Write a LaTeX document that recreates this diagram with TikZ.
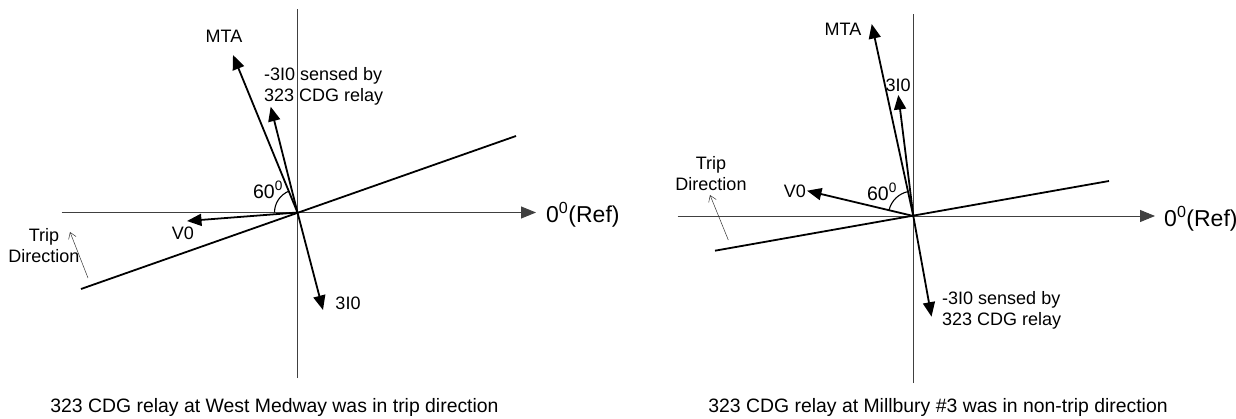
\documentclass[tikz,border=0pt]{standalone}
\usepackage{fontspec}
\setmainfont{Liberation Sans}
\usetikzlibrary{arrows.meta}
\begin{document}
\begin{tikzpicture}[x=1pt,y=1pt,
  axisline/.style={line width=0.9pt, draw=black!75},
  axisarrow/.style={line width=0.9pt, draw=black!75, -{Triangle[length=15pt,width=12pt]}},
  vec/.style={line width=1.8pt, -{Triangle[length=14.5pt,width=12pt]}},
  zline/.style={line width=1.8pt},
  anglearc/.style={line width=1.1pt},
  tripar/.style={line width=0.5pt, draw=black!80, -{Straight Barb[length=6pt,width=8pt]}},
  lbl/.style={font=\fontsize{18}{21}\selectfont, inner sep=0pt},
  reflbl/.style={font=\fontsize{23}{26}\selectfont, inner sep=0pt},
  anglbl/.style={font=\fontsize{19.5}{22}\selectfont, inner sep=0pt},
  caplbl/.style={font=\fontsize{19.4}{23}\selectfont, inner sep=0pt}]
\useasboundingbox (0,0) rectangle (1236,418);

% ---------------- Left diagram ----------------
\coordinate (O1) at (297.5,205.5);
\coordinate (v1t) at (297.5,408.5);
\coordinate (v1b) at (297.5,40);
\coordinate (h1s) at (61.5,205.5);
\coordinate (h1e) at (536,205.5);
\coordinate (z1a) at (81,129);
\coordinate (z1b) at (516,282);
\coordinate (mta1) at (233,363);
\coordinate (m3i1) at (270.7,311.3);
\coordinate (vz1) at (187,197);
\coordinate (i31) at (323,108);
\coordinate (tr1s) at (88,140);
\coordinate (tr1e) at (70,186);

\draw[axisline] (v1b) -- (v1t);
\draw[axisarrow] (h1s) -- (h1e);
\draw[zline] (z1a) -- (z1b);
\draw[vec] (O1) -- (mta1);
\draw[vec] (O1) -- (m3i1);
\draw[vec] (O1) -- (vz1);
\draw[vec] (O1) -- (i31);
\draw[anglearc] (O1) ++(180:23) arc[start angle=180,end angle=112,radius=23];
\draw[tripar] (tr1s) -- (tr1e);

\node[reflbl, anchor=west] (ref1) at (546,203) {0\textsuperscript{0}(Ref)};
\node[lbl] (mtal1) at (224,382) {MTA};
\node[lbl, anchor=west, align=left] (m3il1) at (264,331.3) {-3I0 sensed by\\323 CDG relay};
\node[lbl] (vzl1) at (183,185) {V0};
\node[lbl] (i3l1) at (348,115) {3I0};
\node[anglbl] (ang1) at (268,228) {60\textsuperscript{0}};
\node[lbl, align=center] (trip1) at (44,172) {Trip\\Direction};
\node[caplbl, anchor=base] (cap1) at (274.5,6) {323 CDG relay at West Medway was in trip direction};

% ---------------- Right diagram ----------------
\coordinate (O2) at (913.3,202);
\coordinate (v2t) at (913.3,404);
\coordinate (v2b) at (913.3,35);
\coordinate (h2s) at (677.5,202);
\coordinate (h2e) at (1155,202);
\coordinate (z2a) at (715,167.3);
\coordinate (z2b) at (1109,237);
\coordinate (mta2) at (871.7,394);
\coordinate (i32) at (898.3,323);
\coordinate (vz2) at (807,227.3);
\coordinate (m3i2) at (931.5,101.3);
\coordinate (tr2s) at (728.3,178);
\coordinate (tr2e) at (710,223);

\draw[axisline] (v2b) -- (v2t);
\draw[axisarrow] (h2s) -- (h2e);
\draw[zline] (z2a) -- (z2b);
\draw[vec] (O2) -- (mta2);
\draw[vec] (O2) -- (i32);
\draw[vec] (O2) -- (vz2);
\draw[vec] (O2) -- (m3i2);
\draw[anglearc] (O2) ++(166.6:25) arc[start angle=166.6,end angle=102.2,radius=25];
\draw[tripar] (tr2s) -- (tr2e);

\node[reflbl, anchor=west] (ref2) at (1164,199) {0\textsuperscript{0}(Ref)};
\node[lbl] (mtal2) at (843,389) {MTA};
\node[lbl] (i3l2) at (898,333) {3I0};
\node[lbl, anchor=east] (vzl2) at (806,227) {V0};
\node[lbl, anchor=west, align=left] (m3il2) at (942,107.5) {-3I0 sensed by\\323 CDG relay};
\node[anglbl] (ang2) at (882,226.3) {60\textsuperscript{0}};
\node[lbl, align=center] (trip2) at (711,244.7) {Trip\\Direction};
\node[caplbl, anchor=base] (cap2) at (938,6) {323 CDG relay at Millbury \#3 was in non-trip direction};
\end{tikzpicture}
\end{document}
